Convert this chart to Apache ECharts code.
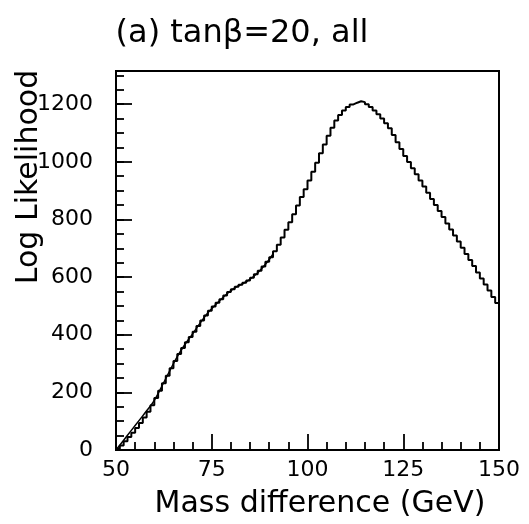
<!DOCTYPE html>
<html>
<head>
<meta charset="utf-8">
<script src="https://cdn.jsdelivr.net/npm/echarts@6/dist/echarts.min.js"></script>
<style>
  html, body { margin: 0; padding: 0; background: #fff; }
  #main { width: 529px; height: 524px; }
</style>
</head>
<body>
<div id="main"></div>
<script>
// histogram: 1 GeV bins from 50 to 150
var binStart = 50
var binWidth = 1
var histValues = [
  4, 16, 30, 45, 60, 76, 94, 113, 133, 155,
  180, 206, 232, 258, 284, 309, 333, 354, 374, 392,
  410, 430, 449, 467, 483, 498, 511, 523, 536, 548,
  558, 566, 573, 580, 588, 598, 610, 622, 637, 653,
  669, 690, 712, 737, 764, 790, 818, 848, 878, 905,
  935, 965, 997, 1030, 1060, 1090, 1118, 1143, 1162, 1178,
  1190, 1199, 1205, 1210, 1207, 1200, 1190, 1178, 1165, 1150,
  1134, 1116, 1093, 1068, 1044, 1020, 999, 978, 957, 935,
  914, 893, 871, 850, 829, 808, 786, 765, 744, 723,
  702, 680, 659, 638, 616, 595, 574, 553, 531, 510
]

// smooth curve over the low mass side
var fitX = [50, 52, 54, 56, 58, 60, 62, 64, 66, 68, 70, 72, 74, 76, 78, 80, 82, 84, 86, 88, 90, 91]
var fitY = [0, 34, 68, 102, 136, 172, 222, 274, 324, 366, 403, 441, 476, 504, 530, 553, 570, 584, 603, 629, 661, 680]

var xTicks = [50, 75, 100, 125, 150]
var yTicks = [0, 200, 400, 600, 800, 1000, 1200]

var chartDom = document.getElementById('main')
var myChart = echarts.init(chartDom)

var histData = histValues.map(function (v, i) { return [binStart + i * binWidth, v] })
histData.push([binStart + histValues.length * binWidth, histValues[histValues.length - 1]])

var fitData = fitX.map(function (x, i) { return [x, fitY[i]] })

var font = 'DejaVu Sans'
var option = {
  backgroundColor: '#fff',
  animation: false,
  grid: {
    left: 116, right: 30, top: 71, bottom: 74,
    show: true, borderColor: '#000', borderWidth: 2, backgroundColor: 'transparent'
  },
  xAxis: {
    type: 'value',
    min: xTicks[0],
    max: xTicks[xTicks.length - 1],
    interval: xTicks[1] - xTicks[0],
    axisLine: { show: true, lineStyle: { color: '#000', width: 2 } },
    axisTick: { inside: true, length: 16, lineStyle: { color: '#000', width: 1.8 } },
    minorTick: { show: true, splitNumber: 5, length: 8, lineStyle: { color: '#000', width: 1.8 } },
    splitLine: { show: false },
    axisLabel: { margin: 9, fontFamily: font, fontSize: 22, color: '#000' }
  },
  yAxis: [
    {
      type: 'value',
      min: 0,
      max: 1315,
      interval: yTicks[1] - yTicks[0],
      axisLine: { show: true, lineStyle: { color: '#000', width: 2 } },
      axisTick: { inside: true, length: 16, lineStyle: { color: '#000', width: 1.8 } },
      splitLine: { show: false },
      axisLabel: {
        margin: 23, fontFamily: font, fontSize: 22, color: '#000', showMaxLabel: false,
        formatter: function (v) { return yTicks.indexOf(v) >= 0 ? String(v) : '' }
      }
    },
    {
      type: 'value',
      position: 'left',
      min: 0,
      max: 1315,
      interval: 50,
      axisLine: { show: false },
      axisTick: { inside: true, length: 8, lineStyle: { color: '#000', width: 1.8 } },
      splitLine: { show: false },
      axisLabel: { show: false }
    }
  ],
  graphic: [
    {
      type: 'text',
      x: 242, y: 34,
      style: { text: '(a) tanβ=20, all', font: '32px "DejaVu Sans"', fill: '#000', textAlign: 'center', textVerticalAlign: 'middle' }
    },
    {
      type: 'text',
      x: 320, y: 504,
      style: { text: 'Mass difference (GeV)', font: '30px "DejaVu Sans"', fill: '#000', textAlign: 'center', textVerticalAlign: 'middle' }
    },
    {
      type: 'text',
      x: 29, y: 177,
      rotation: Math.PI / 2,
      style: { text: 'Log Likelihood', font: '30px "DejaVu Sans"', fill: '#000', textAlign: 'center', textVerticalAlign: 'middle' }
    }
  ],
  series: [
    {
      type: 'line',
      step: 'end',
      data: histData,
      showSymbol: false,
      lineStyle: { color: '#000', width: 2 }
    },
    {
      type: 'line',
      smooth: true,
      data: fitData,
      showSymbol: false,
      lineStyle: { color: '#000', width: 1.5 }
    }
  ]
}

option && myChart.setOption(option)
</script>
</body>
</html>
